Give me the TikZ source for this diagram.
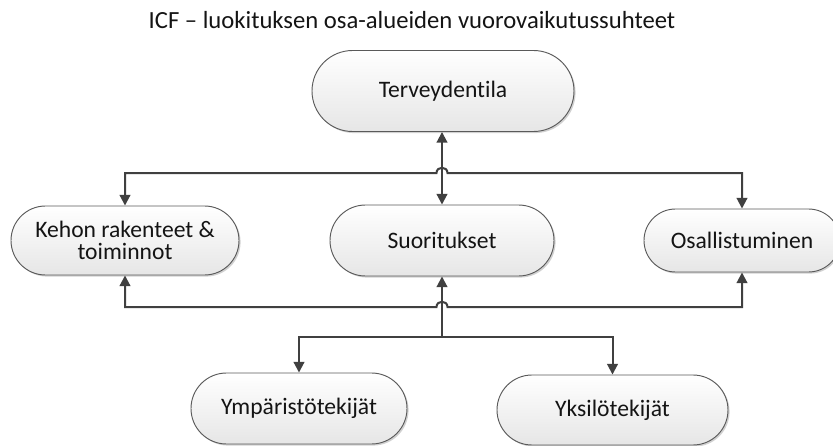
\documentclass[tikz,border=0pt]{standalone}
\usepackage{fontspec}
\setmainfont{Carlito}[Ligatures=NoCommon]
\usetikzlibrary{arrows.meta,shapes.misc,shadows,calc}
\definecolor{boxbot}{RGB}{230,230,230}
\definecolor{boxline}{RGB}{90,90,90}
\definecolor{ln}{RGB}{64,64,64}
\definecolor{txt}{RGB}{20,20,20}
\begin{document}
\begin{tikzpicture}[x=0.75pt,y=-0.75pt,
  box/.style={rounded rectangle, draw=boxline, line width=0.7pt,
    top color=white, bottom color=boxbot, text=txt, align=center,
    inner sep=0pt, font=\fontsize{17.7}{16.2}\selectfont,
    drop shadow={shadow xshift=1.2pt, shadow yshift=-1.2pt, fill=black, opacity=0.18}},
  conn/.style={draw=ln, line width=1.5pt},
  tips/.style={{Triangle[length=8pt,width=8pt]}-{Triangle[length=8pt,width=8pt]}},
  tipl/.style={{Triangle[length=8pt,width=8pt]}-}]
\useasboundingbox (0,0) rectangle (833,446);
\node[text=txt, font=\fontsize{18.5}{20}\selectfont] (title) at (412,20) {ICF – luokituksen osa-alueiden vuorovaikutussuhteet};
\node[box, minimum width=196.5pt, minimum height=60.75pt] (terv) at (443,91) {Terveydentila};
\node[box, minimum width=171pt, minimum height=51.75pt] (kehon) at (125,240.5) {Kehon rakenteet \&\\toiminnot};
\node[box, minimum width=168pt, minimum height=53.25pt] (suor) at (442,240.5) {Suoritukset};
\node[box, minimum width=147pt, minimum height=47.25pt] (osal) at (742,240.5) {Osallistuminen};
\node[box, minimum width=162pt, minimum height=53.25pt] (ymp) at (299,408.5) {Ympäristötekijät};
\node[box, minimum width=173.25pt, minimum height=52.5pt] (yks) at (612.5,410) {Yksilötekijät};
\coordinate (jt) at (442,173);
\coordinate (jb) at (442,307);
\coordinate (jd) at (442,337);
% vertical Terveydentila <-> Suoritukset
\draw[conn,tips] (terv.south -| jt) -- (suor.north);
% top horizontal with hop
\draw[conn,tips] (kehon.north) -- (kehon.north |- jt) -- ($(jt)+(-5.5,0)$)
  .. controls ($(jt)+(-5.5,-7)$) and ($(jt)+(5.5,-7)$) .. ($(jt)+(5.5,0)$)
  -- (osal.north |- jt) -- (osal.north);
% bottom horizontal with hop
\draw[conn,tips] (kehon.south) -- (kehon.south |- jb) -- ($(jb)+(-5.5,0)$)
  .. controls ($(jb)+(-5.5,-7)$) and ($(jb)+(5.5,-7)$) .. ($(jb)+(5.5,0)$)
  -- (osal.south |- jb) -- (osal.south);
% Suoritukset down to factors
\draw[conn,tipl] (suor.south) -- (jd);
\draw[conn,tips] (ymp.north) -- (ymp.north |- jd) -- (yks.north |- jd) -- (yks.north);
\end{tikzpicture}
\end{document}
